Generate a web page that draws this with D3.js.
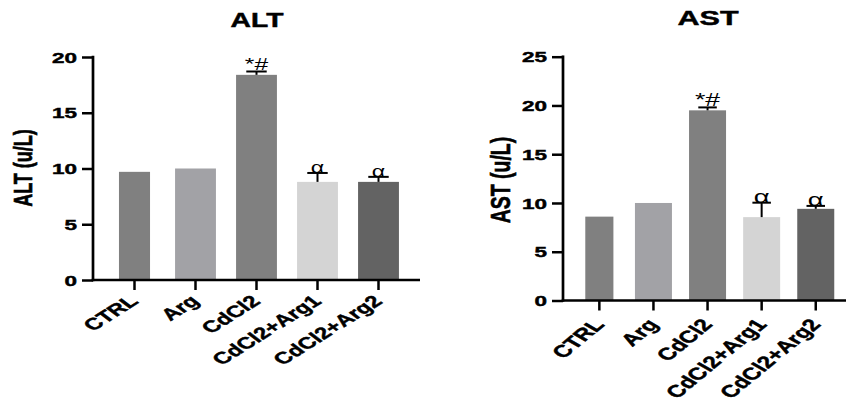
<!DOCTYPE html>
<html>
<head>
<meta charset="utf-8">
<script src="https://cdn.jsdelivr.net/npm/d3@7"></script>
<style>
html,body{margin:0;padding:0;background:#fff;}
svg{display:block;}
text{font-family:"Liberation Sans",Arial,sans-serif;fill:#000;}
text.heavy{stroke:#000;stroke-width:0.45px;}
</style>
</head>
<body>
<svg id="chart" width="846" height="400"></svg>
<script>
// ---- data ----
const categories = ["CTRL", "Arg", "CdCl2", "CdCl2+Arg1", "CdCl2+Arg2"];
const altMeans  = [9.7, 10.0, 18.4, 8.8, 8.8];
const altErrors = [0, 0, 0.3, 0.8, 0.45];
const altMarks  = ["", "", "*#", "α", "α"];
const altTicks  = [0, 5, 10, 15, 20];
const astMeans  = [8.6, 10.0, 19.5, 8.55, 9.4];
const astErrors = [0, 0, 0.3, 1.48, 0.3];
const astMarks  = ["", "", "*#", "α", "α"];
const astTicks  = [0, 5, 10, 15, 20, 25];

// ---- styles ----
const barColors = ["#808080", "#a2a2a6", "#808080", "#d4d4d4", "#636363"];
const barWidthFactor = [0.76, 1, 1, 1, 1];
const SX = 1.45; // horizontal stretch of the original picture

const svg = d3.select("#chart");

const panels = [
  {title: "ALT", ylabel: "ALT (u/L)", means: altMeans, errs: altErrors, marks: altMarks, ticks: altTicks,
   axisX: 93, axisEnd: 420, y0: 280, yTop: 57, xr: [104, 409], pad: 0.33,
   titleX: 257, titleY: 27, ylabX: 23, ylabY: 168, fs: 1.0,
   labRot: -42.4, labSize: 16.4, labDx: 5, labDy: 22.5, alphaSize: 16},
  {title: "AST", ylabel: "AST (u/L)", means: astMeans, errs: astErrors, marks: astMarks, ticks: astTicks,
   axisX: 563, axisEnd: 846, y0: 300.5, yTop: 56.7, xr: [572.3, 842.8], pad: 0.316,
   titleX: 708, titleY: 25, ylabX: 500, ylabY: 180, fs: 1.08,
   labRot: -50, labSize: 16.9, labDx: 6, labDy: 24.5, alphaSize: 19}
];

function stretchedText(g, x, y, str, opts) {
  const gg = g.append("g").attr("transform", `translate(${x},${y}) scale(${SX},1)` + (opts.rotate ? ` rotate(${opts.rotate})` : ""));
  const w = opts.weight || "bold";
  const t = gg.append("text")
    .attr("class", w === "bold" ? "heavy" : null)
    .attr("text-anchor", opts.anchor || "middle")
    .attr("font-size", opts.size)
    .attr("font-weight", w)
    .text(str);
  if (opts.dy) t.attr("dy", opts.dy);
  return t;
}

panels.forEach(p => {
  const g = svg.append("g");
  const x = d3.scaleBand().domain(categories).range(p.xr).paddingInner(p.pad).paddingOuter(p.pad / 2);
  const maxTick = p.ticks[p.ticks.length - 1];
  const y = d3.scaleLinear().domain([0, maxTick]).range([p.y0, p.yTop]);

  // bars
  const data = categories.map((c, i) => ({c, v: p.means[i], e: p.errs[i], m: p.marks[i], col: barColors[i], wf: barWidthFactor[i]}));
  g.selectAll("rect.bar").data(data).enter().append("rect")
    .attr("x", d => x(d.c) + x.bandwidth() * (1 - d.wf) / 2)
    .attr("width", d => x.bandwidth() * d.wf)
    .attr("y", d => y(d.v))
    .attr("height", d => y(0) - y(d.v))
    .attr("fill", d => d.col);

  // error bars (upper)
  data.filter(d => d.e > 0).forEach(d => {
    const cx = x(d.c) + x.bandwidth() / 2;
    const cw = x.bandwidth() / 2;
    g.append("line").attr("x1", cx).attr("x2", cx).attr("y1", y(d.v)).attr("y2", y(d.v + d.e))
      .attr("stroke", "#000").attr("stroke-width", 2);
    g.append("line").attr("x1", cx - cw / 2).attr("x2", cx + cw / 2).attr("y1", y(d.v + d.e)).attr("y2", y(d.v + d.e))
      .attr("stroke", "#000").attr("stroke-width", 2);
  });

  // significance marks
  data.filter(d => d.m).forEach(d => {
    const cx = x(d.c) + x.bandwidth() / 2;
    const isAlpha = d.m === "α";
    stretchedText(g, cx, y(d.v + d.e) + (isAlpha ? 0.5 : -1), d.m,
      {size: isAlpha ? p.alphaSize : 17 * p.fs, weight: "normal"});
  });

  // y axis
  const yAxis = d3.axisLeft(y).tickValues(p.ticks).tickSize(11).tickFormat("");
  const ya = g.append("g").attr("transform", `translate(${p.axisX},0)`).call(yAxis);
  ya.select(".domain").remove();
  ya.selectAll(".tick line").attr("stroke", "#000").attr("stroke-width", 2.5);
  g.append("line").attr("x1", p.axisX).attr("x2", p.axisX).attr("y1", y(maxTick) - 1.25).attr("y2", p.y0 + 1.25)
    .attr("stroke", "#000").attr("stroke-width", 2.7);
  p.ticks.forEach(t => {
    stretchedText(g, p.axisX - 16, y(t), String(t), {size: 15.5, anchor: "end", dy: "0.36em"});
  });

  // x axis
  g.append("line").attr("x1", p.axisX - 1.3).attr("x2", p.axisEnd).attr("y1", p.y0).attr("y2", p.y0)
    .attr("stroke", "#000").attr("stroke-width", 2.7);
  const xAxis = d3.axisBottom(x).tickSize(10).tickFormat("");
  const xa = g.append("g").attr("transform", `translate(0,${p.y0})`).call(xAxis);
  xa.select(".domain").remove();
  xa.selectAll(".tick line").attr("stroke", "#000").attr("stroke-width", 2.5);
  categories.forEach(c => {
    const cx = x(c) + x.bandwidth() / 2;
    stretchedText(g, cx + p.labDx, p.y0 + p.labDy, c, {size: p.labSize, anchor: "end", rotate: p.labRot});
  });

  // title & y label
  stretchedText(g, p.titleX, p.titleY, p.title, {size: 19.5 * p.fs});
  stretchedText(g, p.ylabX, p.ylabY, p.ylabel, {size: 18 * p.fs, rotate: -90, dy: "0.35em"});
});
</script>
</body>
</html>
